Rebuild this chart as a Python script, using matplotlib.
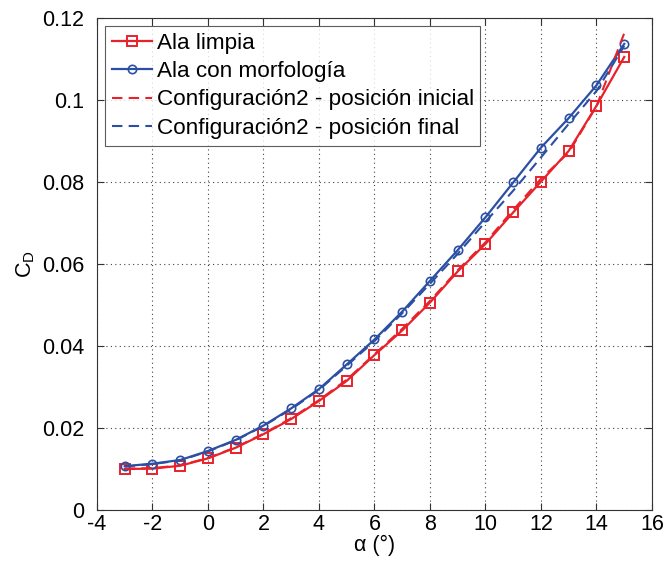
import matplotlib
matplotlib.use("Agg")
import matplotlib.pyplot as plt

plt.rcParams['font.family'] = ['Liberation Sans', 'DejaVu Sans']
plt.rcParams['mathtext.fontset'] = 'custom'
plt.rcParams['mathtext.rm'] = 'Liberation Sans'
plt.rcParams['mathtext.it'] = 'Liberation Sans'
plt.rcParams['axes.unicode_minus'] = False

# Angle of attack (deg)
alpha = [-3, -2, -1, 0, 1, 2, 3, 4, 5, 6, 7, 8, 9, 10, 11, 12, 13, 14, 15]

# Drag coefficient, clean wing
cd_limpia = [0.0100, 0.0101, 0.0108, 0.0126, 0.0152, 0.0185, 0.0222, 0.0266,
             0.0315, 0.0378, 0.0438, 0.0506, 0.0582, 0.0649, 0.0726, 0.0801,
             0.0876, 0.0986, 0.1105]

# Drag coefficient, morphing wing
cd_morf = [0.0107, 0.0113, 0.0122, 0.0144, 0.0171, 0.0206, 0.0248, 0.0295,
           0.0355, 0.0416, 0.0484, 0.0559, 0.0634, 0.0714, 0.0799, 0.0884,
           0.0956, 0.1036, 0.1137]

# Configuration 2, initial position
cd_conf2_ini = [0.0101, 0.0102, 0.0109, 0.0127, 0.0153, 0.0186, 0.0224, 0.0268,
                0.0318, 0.0380, 0.0442, 0.0510, 0.0585, 0.0653, 0.0732, 0.0808,
                0.0872, 0.0985, 0.1163]

# Configuration 2, final position
cd_conf2_fin = [0.0106, 0.0112, 0.0121, 0.0143, 0.0170, 0.0205, 0.0246, 0.0293,
                0.0352, 0.0412, 0.0480, 0.0552, 0.0625, 0.0703, 0.0779, 0.0860,
                0.0942, 0.1022, 0.1132]

labels = ['Ala limpia', 'Ala con morfología',
          'Configuración2 - posición inicial', 'Configuración2 - posición final']

red = '#e8222b'
blue = '#2a4fa3'
fs = 15.5

fig = plt.figure(figsize=(6.67, 5.63), dpi=100)
ax = fig.add_axes([0.1454, 0.0941, 0.8321, 0.8739])

ax.plot(alpha, cd_limpia, color=red, lw=1.6, marker='s', ms=7.5,
        mfc='none', mec=red, mew=1.4, label=labels[0])
ax.plot(alpha, cd_morf, color=blue, lw=1.6, marker='o', ms=6,
        mfc='none', mec=blue, mew=1.2, label=labels[1])
ax.plot(alpha, cd_conf2_ini, color=red, lw=1.5, ls=(0, (5, 3)), label=labels[2])
ax.plot(alpha, cd_conf2_fin, color=blue, lw=1.5, ls=(0, (5, 3)), label=labels[3])

ax.set_xlim(-4, 16)
ax.set_ylim(0, 0.12)
ax.set_xticks(range(-4, 17, 2))
ax.set_yticks([0, 0.02, 0.04, 0.06, 0.08, 0.1, 0.12])
ax.set_yticklabels(['0', '0.02', '0.04', '0.06', '0.08', '0.1', '0.12'])

ax.grid(True, color='#444444', ls=(0, (1, 3)), lw=0.8)
ax.tick_params(direction='in', length=5, labelsize=fs, top=True, right=True,
               width=0.8, colors='#333333', labelcolor='black')
ax.tick_params(axis='y', pad=9)
ax.tick_params(axis='x', pad=3)
for s in ax.spines.values():
    s.set_linewidth(0.8)
    s.set_color('#333333')

ax.set_xlabel('α (°)', fontsize=fs, labelpad=0)
ax.set_ylabel('C$_\\mathregular{D}$', fontsize=fs, labelpad=4)

leg = ax.legend(loc='upper left', fontsize=16.2, frameon=True, fancybox=False,
                edgecolor='#333333', handlelength=1.8, handletextpad=0.2,
                borderpad=0.3, labelspacing=0.33, borderaxespad=0.35)
leg.get_frame().set_linewidth(0.8)

fig.savefig('out.png', dpi=100)
